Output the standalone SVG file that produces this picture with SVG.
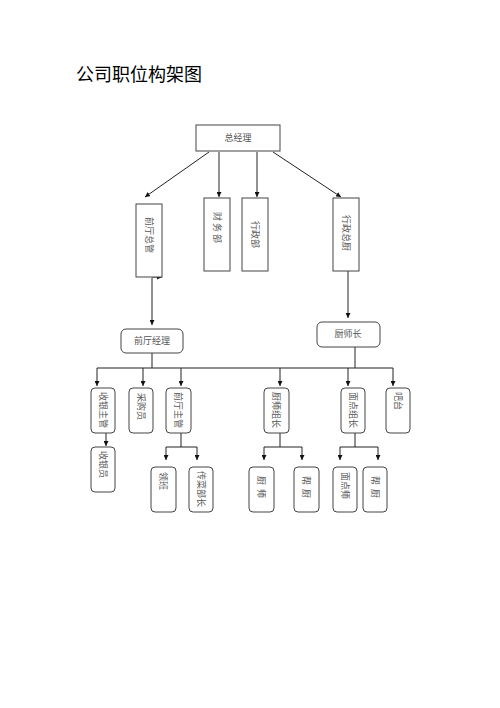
<svg xmlns="http://www.w3.org/2000/svg" width="500" height="708" viewBox="0 0 500 708">
<style>
.bx{fill:#fff;stroke:#444;stroke-width:1}
.ln{fill:none;stroke:#222;stroke-width:1}
.ar{fill:none;stroke:#222;stroke-width:1;marker-end:url(#ah)}
.t{font-family:"Noto Sans CJK SC","Noto Sans CJK JP",sans-serif;font-size:9px;fill:#555}
.vt{font-family:"Noto Sans CJK SC","Noto Sans CJK JP",sans-serif;font-size:9px;fill:#555;dominant-baseline:central}
.title{font-family:"Noto Sans CJK SC","Noto Sans CJK JP",sans-serif;font-size:18px;fill:#000}
</style>
<defs>
<marker id="ah" viewBox="0 0 10 10" refX="10" refY="5" markerWidth="5" markerHeight="5" orient="auto" markerUnits="userSpaceOnUse"><path d="M0,0 L10,5 L0,10 z" fill="#111"/></marker>
</defs>
<rect width="500" height="708" fill="#fff"/>
<text class="title" x="76" y="81">公司职位构架图</text>

<g id="connectors">
<path class="ar" d="M209,152 L145,197"/>
<path class="ar" d="M219,152 L219,197"/>
<path class="ar" d="M257,152 L257,197"/>
<path class="ar" d="M273,152 L341,197"/>
<path class="ar" d="M152,277 L162,277"/>
<path class="ar" d="M152,278 L152,325"/>
<path class="ar" d="M348,271 L348,318"/>
<path class="ln" d="M152,353 L152,368"/>
<path class="ln" d="M355,347 L355,368"/>
<path class="ln" d="M97,368 L393,368"/>
<path class="ar" d="M97,368 L97,386"/>
<path class="ar" d="M143,368 L143,386"/>
<path class="ar" d="M181,368 L181,386"/>
<path class="ar" d="M280,368 L280,386"/>
<path class="ar" d="M348,368 L348,386"/>
<path class="ar" d="M393,368 L393,386"/>
<path class="ar" d="M106,433 L106,446"/>
<path class="ln" d="M181,433 L181,447 M166,447 L197,447"/>
<path class="ar" d="M166,447 L166,460"/>
<path class="ar" d="M197,447 L197,460"/>
<path class="ln" d="M280,433 L280,447 M264,447 L302,447"/>
<path class="ar" d="M264,447 L264,460"/>
<path class="ar" d="M302,447 L302,460"/>
<path class="ln" d="M355,433 L355,447 M340,447 L378,447"/>
<path class="ar" d="M340,447 L340,460"/>
<path class="ar" d="M378,447 L378,460"/>
</g>

<g id="n-zongjingli"><rect class="bx" x="196" y="125" width="84" height="26"/><text class="t" x="238" y="141" text-anchor="middle">总经理</text></g>
<g id="n-qiantingzongguan"><rect class="bx" x="136" y="204" width="26" height="73"/><text class="vt" transform="translate(149,217) rotate(90)">前厅总管</text></g>
<g id="n-caiwubu"><rect class="bx" x="204" y="198" width="26" height="73"/><text class="vt" transform="translate(217,212) rotate(90)" xml:space="preserve">财 务 部</text></g>
<g id="n-xingzhengbu"><rect class="bx" x="242" y="198" width="26" height="73"/><text class="vt" transform="translate(255,221) rotate(90)">行政部</text></g>
<g id="n-xingzhengzongchu"><rect class="bx" x="333" y="198" width="26" height="73"/><text class="vt" transform="translate(346,215) rotate(90)">行政总厨</text></g>

<g id="n-qiantingjingli"><rect class="bx" x="121" y="329" width="62" height="24" rx="5"/><text class="t" x="152" y="344" text-anchor="middle">前厅经理</text></g>
<g id="n-chushizhang"><rect class="bx" x="317" y="322" width="63" height="25" rx="5"/><text class="t" x="348" y="337" text-anchor="middle">厨师长</text></g>

<g id="n-shouyinzhuguan"><rect class="bx" x="91" y="388" width="24" height="45" rx="4"/><text class="vt" transform="translate(103,392) rotate(90)">收银主管</text></g>
<g id="n-caigouyuan"><rect class="bx" x="129" y="388" width="24" height="45" rx="4"/><text class="vt" transform="translate(141,393) rotate(90)">采购员</text></g>
<g id="n-qiantingzhuguan"><rect class="bx" x="166" y="388" width="25" height="45" rx="4"/><text class="vt" transform="translate(178.5,392) rotate(90)">前厅主管</text></g>
<g id="n-chushizuzhang"><rect class="bx" x="264" y="388" width="25" height="45" rx="4"/><text class="vt" transform="translate(276.5,392) rotate(90)">厨师组长</text></g>
<g id="n-miandianzuzhang"><rect class="bx" x="341" y="388" width="24" height="45" rx="4"/><text class="vt" transform="translate(353,392) rotate(90)">面点组长</text></g>
<g id="n-bataI"><rect class="bx" x="386" y="388" width="24" height="45" rx="4"/><text class="vt" transform="translate(398,392) rotate(90)">吧台</text></g>

<g id="n-shouyinyuan"><rect class="bx" x="91" y="447" width="24" height="45" rx="4"/><text class="vt" transform="translate(103,451) rotate(90)">收银员</text></g>
<g id="n-lingban"><rect class="bx" x="151" y="467" width="25" height="45" rx="4"/><text class="vt" transform="translate(163.5,472) rotate(90)">领班</text></g>
<g id="n-chuancaibuzhang"><rect class="bx" x="189" y="467" width="24" height="45" rx="4"/><text class="vt" transform="translate(201,471) rotate(90)">传菜部长</text></g>
<g id="n-chushi"><rect class="bx" x="249" y="467" width="25" height="45" rx="4"/><text class="vt" transform="translate(261.5,476) rotate(90)" xml:space="preserve">厨  师</text></g>
<g id="n-bangchu1"><rect class="bx" x="294" y="467" width="25" height="45" rx="4"/><text class="vt" transform="translate(306.5,476) rotate(90)" xml:space="preserve">帮  厨</text></g>
<g id="n-miandianshi"><rect class="bx" x="333" y="467" width="24" height="45" rx="4"/><text class="vt" transform="translate(345,472) rotate(90)">面点师</text></g>
<g id="n-bangchu2"><rect class="bx" x="363" y="467" width="24" height="45" rx="4"/><text class="vt" transform="translate(375,476) rotate(90)" xml:space="preserve">帮  厨</text></g>
</svg>
